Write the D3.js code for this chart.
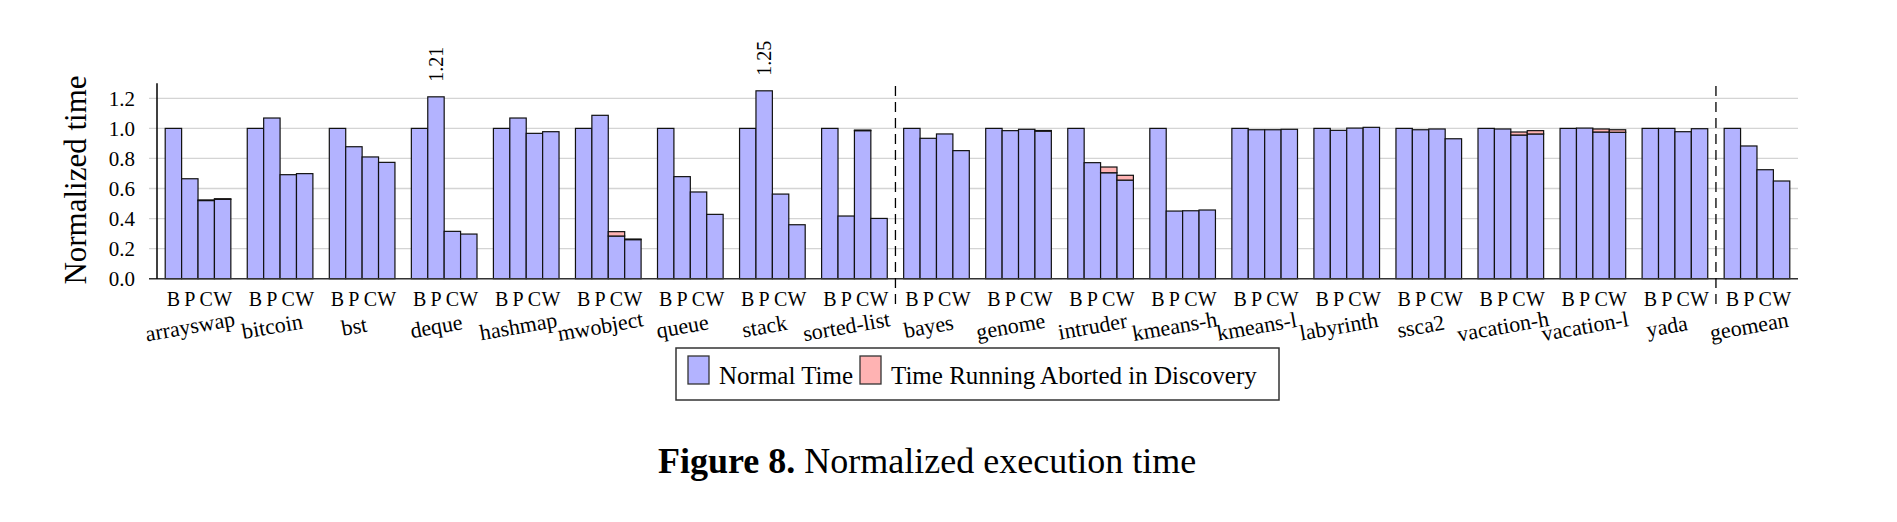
<!DOCTYPE html>
<html>
<head>
<meta charset="utf-8">
<script src="https://cdn.jsdelivr.net/npm/d3@7"></script>
<style>
  body { margin: 0; background: #fff; }
  text { font-family: "Liberation Serif", "DejaVu Serif", serif; fill: #000; }
</style>
</head>
<body>
<svg id="chart" width="1897" height="522"></svg>
<script>
// benchmarks (x groups)
const categories = ["arrayswap", "bitcoin", "bst", "deque", "hashmap", "mwobject", "queue", "stack", "sorted-list",
  "bayes", "genome", "intruder", "kmeans-h", "kmeans-l", "labyrinth", "ssca2", "vacation-h", "vacation-l", "yada", "geomean"];
// the four configurations in each group
const configs = ["B", "P", "C", "W"];
const yTicks = [0, 0.2, 0.4, 0.6, 0.8, 1.0, 1.2];

// normal time per configuration
const normB = [1, 1, 1, 1, 1, 1, 1, 1, 1, 1, 1, 1, 1, 1, 1, 1, 1, 1, 1, 1];
const normP = [0.665, 1.069, 0.878, 1.21, 1.069, 1.087, 0.679, 1.25, 0.417, 0.934, 0.985, 0.772, 0.45, 0.991, 0.987, 0.991, 0.996, 1.002, 1.0, 0.883];
const normC = [0.52, 0.692, 0.81, 0.315, 0.967, 0.284, 0.577, 0.563, 0.985, 0.963, 0.994, 0.705, 0.452, 0.991, 1.002, 0.996, 0.956, 0.976, 0.978, 0.725];
const normW = [0.528, 0.699, 0.774, 0.297, 0.978, 0.26, 0.428, 0.359, 0.401, 0.852, 0.982, 0.656, 0.457, 0.994, 1.007, 0.931, 0.963, 0.974, 0.998, 0.65];
// time running aborted in discovery (stacked on top)
const abortB = categories.map(() => 0);
const abortP = categories.map(() => 0);
const abortC = [0.004, 0, 0, 0, 0, 0.029, 0, 0, 0.004, 0, 0, 0.038, 0, 0, 0, 0, 0.02, 0.02, 0, 0];
const abortW = [0.004, 0, 0, 0, 0, 0.004, 0, 0, 0, 0, 0.004, 0.032, 0, 0, 0, 0, 0.022, 0.017, 0, 0];

// groups after which a dashed separator is drawn
const separators = ["sorted-list", "yada"];

const normal = { B: normB, P: normP, C: normC, W: normW };
const aborted = { B: abortB, P: abortP, C: abortC, W: abortW };

const rows = [];
categories.forEach((c, i) => {
  configs.forEach((k) => {
    rows.push({ cat: c, cfg: k, normal: normal[k][i], abort: aborted[k][i] });
  });
});

const svg = d3.select("#chart");
const plotLeft = 157, plotRight = 1798, plotTop = 83.3, plotBottom = 278.7;

const x = d3.scaleBand().domain(categories).range([plotLeft, plotRight]).paddingInner(0.2).paddingOuter(0.1);
const xi = d3.scaleBand().domain(configs).range([0, x.bandwidth()]);
const y = d3.scaleLinear().domain([0, 1.3]).range([plotBottom, plotTop]);

const blue = "#b3b3ff", red = "#ffb3b3";

// grid lines
svg.append("g")
  .selectAll("line")
  .data(yTicks)
  .join("line")
  .attr("x1", plotLeft - 8)
  .attr("x2", plotRight)
  .attr("y1", (d) => y(d))
  .attr("y2", (d) => y(d))
  .attr("stroke", "#d4d4d4")
  .attr("stroke-width", 1.3);

// y tick labels
svg.append("g")
  .selectAll("text")
  .data(yTicks)
  .join("text")
  .attr("x", plotLeft - 22)
  .attr("y", (d) => y(d))
  .attr("dy", "0.35em")
  .attr("text-anchor", "end")
  .style("font-size", "21px")
  .text(d3.format(".1f"));

// bars
const bars = svg.append("g");
bars.selectAll("rect.normal")
  .data(rows)
  .join("rect")
  .attr("class", "normal")
  .attr("x", (d) => x(d.cat) + xi(d.cfg))
  .attr("width", xi.bandwidth())
  .attr("y", (d) => y(d.normal))
  .attr("height", (d) => y(0) - y(d.normal))
  .attr("fill", blue)
  .attr("stroke", "#111")
  .attr("stroke-width", 1.2);

bars.selectAll("rect.abort")
  .data(rows.filter((d) => d.abort > 0))
  .join("rect")
  .attr("class", "abort")
  .attr("x", (d) => x(d.cat) + xi(d.cfg))
  .attr("width", xi.bandwidth())
  .attr("y", (d) => y(d.normal + d.abort))
  .attr("height", (d) => y(d.normal) - y(d.normal + d.abort))
  .attr("fill", red)
  .attr("stroke", "#111")
  .attr("stroke-width", 1.2);

// value labels for the tallest bars
svg.append("g")
  .selectAll("text")
  .data(rows.filter((d) => d.normal > 1.2))
  .join("text")
  .attr("transform", (d) => `translate(${x(d.cat) + xi(d.cfg) + xi.bandwidth() / 2},${y(d.normal) - 15}) rotate(-90)`)
  .attr("dy", "0.35em")
  .style("font-size", "20px")
  .text((d) => d3.format(".2f")(d.normal));

// axis lines
svg.append("line")
  .attr("x1", plotLeft - 8).attr("x2", plotRight)
  .attr("y1", y(0)).attr("y2", y(0))
  .attr("stroke", "#333").attr("stroke-width", 1.5);
svg.append("line")
  .attr("x1", plotLeft).attr("x2", plotLeft)
  .attr("y1", plotTop).attr("y2", y(0))
  .attr("stroke", "#000").attr("stroke-width", 1.5);

// dashed separators
svg.append("g")
  .selectAll("line")
  .data(separators)
  .join("line")
  .attr("x1", (d) => x(d) + x.bandwidth() + x.step() * 0.1)
  .attr("x2", (d) => x(d) + x.bandwidth() + x.step() * 0.1)
  .attr("y1", 86)
  .attr("y2", 306)
  .attr("stroke", "#000")
  .attr("stroke-width", 1.3)
  .attr("stroke-dasharray", "10,6");

// B P C W letters under each bar
svg.append("g")
  .selectAll("text")
  .data(rows)
  .join("text")
  .attr("x", (d) => x(d.cat) + xi(d.cfg) + xi.bandwidth() / 2)
  .attr("y", 306)
  .attr("text-anchor", "middle")
  .style("font-size", "20px")
  .text((d) => d.cfg);

// benchmark names, slightly rotated
svg.append("g")
  .selectAll("text")
  .data(categories)
  .join("text")
  .attr("transform", (d) => `translate(${x(d) + x.bandwidth() / 2 - 8},${326}) rotate(-10)`)
  .attr("dy", "0.35em")
  .attr("text-anchor", "middle")
  .style("font-size", "22px")
  .text((d) => d);

// y axis title
svg.append("text")
  .attr("transform", `translate(86,180) rotate(-90)`)
  .attr("text-anchor", "middle")
  .style("font-size", "31px")
  .text("Normalized time");

// legend
const legend = svg.append("g");
legend.append("rect")
  .attr("x", 676).attr("y", 348).attr("width", 603).attr("height", 52)
  .attr("fill", "#fff").attr("stroke", "#333").attr("stroke-width", 1.5);
const legendItems = [
  { label: "Normal Time", color: blue, x: 688 },
  { label: "Time Running Aborted in Discovery", color: red, x: 860 },
];
legendItems.forEach((d) => {
  legend.append("rect")
    .attr("x", d.x).attr("y", 356).attr("width", 21).attr("height", 28)
    .attr("fill", d.color).attr("stroke", "#333").attr("stroke-width", 1.3);
  legend.append("text")
    .attr("x", d.x + 31).attr("y", 384)
    .style("font-size", "25px")
    .text(d.label);
});

// caption
const cap = svg.append("text")
  .attr("x", 658).attr("y", 473)
  .style("font-size", "36px");
cap.append("tspan").style("font-weight", "bold").text("Figure 8.");
cap.append("tspan").text(" Normalized execution time");
</script>
</body>
</html>
